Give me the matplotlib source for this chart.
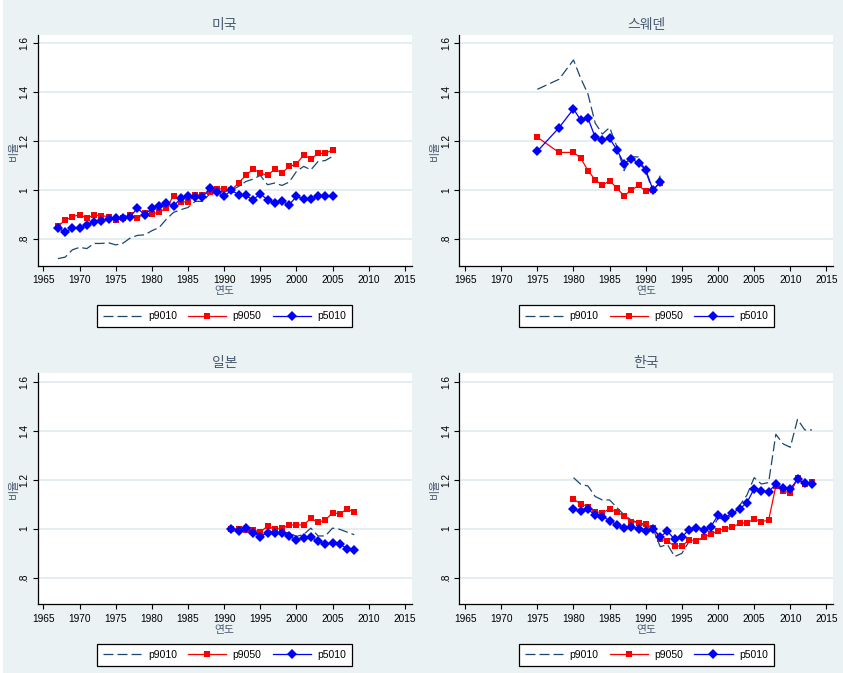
import matplotlib
matplotlib.use("Agg")
import matplotlib.pyplot as plt
from matplotlib.lines import Line2D
from matplotlib.patches import Rectangle

plt.rcParams['font.family'] = ['Liberation Sans', 'Noto Sans CJK KR', 'DejaVu Sans']
plt.rcParams['lines.scale_dashes'] = False

# ---------------- data ----------------
series_names = ["p9010", "p9050", "p5010"]
x_ticks = [1965, 1970, 1975, 1980, 1985, 1990, 1995, 2000, 2005, 2010, 2015]
y_ticks = [0.8, 1.0, 1.2, 1.4, 1.6]
y_tick_labels = [".8", "1", "1.2", "1.4", "1.6"]

us_years = list(range(1967, 2006))
us_p9010 = [0.720, 0.726, 0.756, 0.766, 0.761, 0.782, 0.782, 0.785, 0.776, 0.783,
            0.804, 0.815, 0.817, 0.834, 0.847, 0.881, 0.909, 0.920, 0.929, 0.954,
            0.954, 0.984, 0.988, 0.995, 1.000, 1.015, 1.035, 1.045, 1.060, 1.022,
            1.029, 1.019, 1.033, 1.076, 1.097, 1.083, 1.117, 1.121, 1.138]
us_p9050 = [0.854, 0.876, 0.892, 0.899, 0.885, 0.899, 0.895, 0.892, 0.876, 0.885,
            0.899, 0.885, 0.906, 0.903, 0.910, 0.926, 0.977, 0.952, 0.952, 0.981,
            0.981, 0.992, 1.005, 1.005, 1.000, 1.030, 1.060, 1.086, 1.070, 1.060,
            1.086, 1.070, 1.097, 1.106, 1.144, 1.127, 1.150, 1.150, 1.165]
us_p5010 = [0.847, 0.827, 0.846, 0.846, 0.858, 0.868, 0.875, 0.881, 0.884, 0.885,
            0.892, 0.926, 0.899, 0.926, 0.933, 0.947, 0.933, 0.968, 0.974, 0.971,
            0.971, 1.008, 0.994, 0.974, 1.000, 0.981, 0.978, 0.960, 0.985, 0.960,
            0.947, 0.954, 0.940, 0.974, 0.963, 0.963, 0.974, 0.974, 0.974]

sw_years = [1975, 1978] + list(range(1980, 1993))
sw_p9010 = [1.412, 1.453, 1.532, 1.457, 1.393, 1.274, 1.229, 1.256, 1.178, 1.080,
            1.137, 1.135, 1.076, 0.995, 1.059]
sw_p9050 = [1.216, 1.154, 1.154, 1.131, 1.080, 1.042, 1.019, 1.039, 1.008, 0.977,
            1.000, 1.019, 0.995, 1.000, 1.031]
sw_p5010 = [1.159, 1.255, 1.332, 1.286, 1.294, 1.216, 1.203, 1.211, 1.165, 1.108,
            1.129, 1.110, 1.083, 1.000, 1.034]

jp_years = list(range(1991, 2009))
jp_p9010 = [1.000, 0.989, 0.997, 0.980, 0.958, 0.995, 0.981, 0.985, 0.983, 0.968,
            0.976, 1.002, 0.970, 0.970, 1.002, 0.997, 0.986, 0.975]
jp_p9050 = [1.000, 0.997, 0.993, 0.996, 0.985, 1.011, 0.997, 1.001, 1.015, 1.015,
            1.015, 1.042, 1.026, 1.035, 1.065, 1.060, 1.080, 1.069]
jp_p5010 = [1.000, 0.992, 1.004, 0.984, 0.967, 0.984, 0.984, 0.984, 0.969, 0.954,
            0.961, 0.965, 0.949, 0.937, 0.943, 0.937, 0.918, 0.913]

kr_years = list(range(1980, 2014))
kr_p9010 = [1.208, 1.181, 1.174, 1.131, 1.117, 1.117, 1.086, 1.056, 1.035, 1.024,
            1.008, 1.000, 0.926, 0.935, 0.886, 0.899, 0.948, 0.954, 0.959, 0.990,
            1.042, 1.040, 1.056, 1.095, 1.137, 1.208, 1.182, 1.188, 1.385, 1.346,
            1.332, 1.446, 1.403, 1.403]
kr_p9050 = [1.120, 1.101, 1.090, 1.069, 1.065, 1.080, 1.067, 1.053, 1.029, 1.024,
            1.018, 1.001, 0.958, 0.948, 0.929, 0.929, 0.954, 0.951, 0.965, 0.977,
            0.992, 1.000, 1.005, 1.022, 1.023, 1.039, 1.029, 1.034, 1.174, 1.155,
            1.144, 1.206, 1.182, 1.189]
kr_p5010 = [1.079, 1.071, 1.080, 1.054, 1.049, 1.033, 1.015, 1.004, 1.007, 1.000,
            0.990, 1.000, 0.967, 0.989, 0.956, 0.966, 0.996, 1.004, 0.996, 1.008,
            1.054, 1.045, 1.065, 1.080, 1.106, 1.163, 1.155, 1.150, 1.182, 1.165,
            1.162, 1.201, 1.185, 1.182]

panels = [
    ("미국", us_years, us_p9010, us_p9050, us_p5010),
    ("스웨덴", sw_years, sw_p9010, sw_p9050, sw_p5010),
    ("일본", jp_years, jp_p9010, jp_p9050, jp_p5010),
    ("한국", kr_years, kr_p9010, kr_p9050, kr_p5010),
]

# ---------------- style ----------------
W, H = 843, 673
BG = "#EAF2F3"
GRID = "#E4EDEF"
NAVY = "#1a476f"
TITLE_C = "#4a5a70"
DASH = (0, (7.2, 2.9))
SQ = 4.8
DI = 4.6

fig = plt.figure(figsize=(W / 100, H / 100), dpi=100, facecolor=BG)
fig.patches.append(Rectangle((0, 0), 3 / W, 1, transform=fig.transFigure,
                             facecolor="white", edgecolor="none", zorder=-1))

# pixel boxes: (left, top, right, bottom)
boxes = [
    (37.7, 35.0, 411.7, 265.7),
    (459.3, 35.0, 833.3, 265.7),
    (37.7, 373.3, 411.7, 604.3),
    (459.3, 373.3, 833.3, 604.3),
]

def px(x, y):
    return x / W, 1 - y / H

for (title, yrs, a, b, c), (l, t, r, bt) in zip(panels, boxes):
    ax = fig.add_axes([l / W, 1 - bt / H, (r - l) / W, (bt - t) / H])
    ax.set_facecolor("white")
    ax.set_xlim(1964.2, 2015.95)
    ax.set_ylim(0.691, 1.634)
    for s in ("top", "right"):
        ax.spines[s].set_visible(False)
    for s in ("left", "bottom"):
        ax.spines[s].set_color("black")
        ax.spines[s].set_linewidth(0.9)
    ax.set_xticks(x_ticks)
    ax.set_xticklabels([str(v) for v in x_ticks])
    ax.set_yticks(y_ticks)
    ax.set_yticklabels(y_tick_labels, rotation=90, va="center")
    ax.tick_params(axis="both", direction="out", length=3.5, width=0.8,
                   colors="black", labelsize=7.3)
    ax.tick_params(axis="x", pad=3.3)
    ax.tick_params(axis="y", pad=2.5)
    for yv in y_ticks:
        ax.axhline(yv, color=GRID, lw=1.4, zorder=0.5)

    ax.plot(yrs, a, color=NAVY, lw=0.9, linestyle=DASH, zorder=2)
    ax.plot(yrs, b, color="#ff0000", lw=0.9, marker="s", markersize=SQ,
            markeredgewidth=0, zorder=3)
    ax.plot(yrs, c, color="#0000ff", lw=0.9, marker="D", markersize=DI,
            markeredgewidth=0, zorder=4)

    cx = (l + r) / 2
    fig.text(*px(cx, t - 10.5), title, ha="center", va="center",
             fontsize=10, color=TITLE_C)
    fig.text(*px(cx, bt + 25.5), "연도", ha="center", va="center",
             fontsize=7.8, color=TITLE_C)
    fig.text(*px(l - 24, (t + bt) / 2), "비율", ha="center", va="center",
             rotation=90, fontsize=8, color=TITLE_C)

    handles = [
        Line2D([], [], color=NAVY, lw=0.9, linestyle=DASH),
        Line2D([], [], color="#ff0000", lw=0.9, marker="s", markersize=SQ,
               markeredgewidth=0),
        Line2D([], [], color="#0000ff", lw=0.9, marker="D", markersize=DI,
               markeredgewidth=0),
    ]
    leg = fig.legend(handles, series_names, ncol=3, loc="center",
                     bbox_to_anchor=px(cx, bt + 50.5), frameon=True,
                     fancybox=False, edgecolor="black", facecolor="white",
                     framealpha=1, fontsize=7.5, handlelength=3.7,
                     handletextpad=0.6, columnspacing=1.05, borderpad=0.55,
                     borderaxespad=0)
    leg.get_frame().set_linewidth(0.9)

fig.savefig("out.png", dpi=100, facecolor=BG)
